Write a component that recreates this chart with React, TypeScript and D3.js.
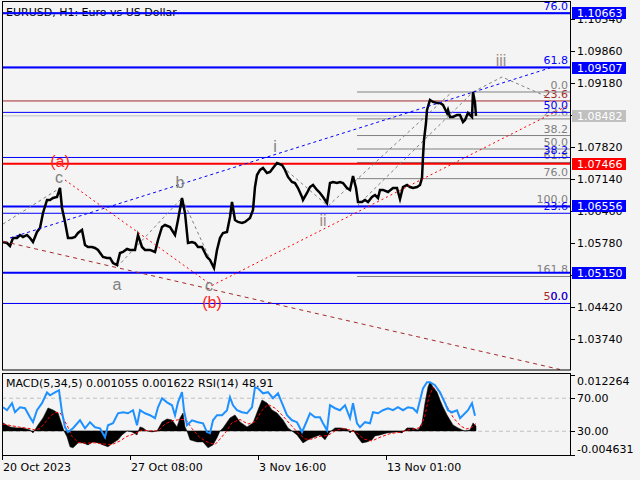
import React from 'react';
import * as d3 from 'd3';

// ---------- DATA ----------
const title = 'EURUSD, H1:  Euro vs US Dollar';
const indicatorTitle = 'MACD(5,34,5) 0.001055 0.001622 RSI(14) 48.91';

const priceTicks = [1.1054, 1.0986, 1.0918, 1.085, 1.0782, 1.0714, 1.0646, 1.0578, 1.051, 1.0442, 1.0374];
const timeTickBars = [0, 128, 256, 384];
const timeTickLabels = ['20 Oct 2023', '27 Oct 08:00', '3 Nov 16:00', '13 Nov 01:00'];

// hour index since 20 Oct 2023 00:00
const priceBars = [1,5,8,11,15,18,21,25,28,31,35,38,41,45,48,51,55,58,60,63,66,70,73,76,80,83,86,90,93,96,101,105,108,111,115,118,121,125,128,133,136,140,143,148,153,156,160,163,168,173,176,180,183,186,190,193,196,200,205,208,212,215,218,221,225,228,230,233,236,240,243,248,251,253,255,258,261,265,268,271,275,280,283,286,290,293,296,300,301,305,308,311,315,318,321,325,328,331,335,338,341,345,348,351,354,356,360,363,366,370,373,376,378,381,386,391,395,398,401,405,408,411,415,418,420,421,422,424,425,428,431,435,438,441,445,446,448,451,455,458,461,463,466,470,471,473,474];
const priceClose = [1.05802,1.05780,1.05717,1.05887,1.05887,1.05950,1.05908,1.05950,1.05887,1.05802,1.06014,1.06099,1.06418,1.06694,1.06694,1.06737,1.06758,1.06949,1.06524,1.06227,1.05887,1.05887,1.05908,1.05993,1.06057,1.05738,1.05695,1.05695,1.05674,1.05632,1.05483,1.05462,1.05462,1.05355,1.05313,1.05568,1.05589,1.05653,1.05632,1.05632,1.05950,1.05695,1.05632,1.05632,1.05589,1.05844,1.06120,1.06163,1.06120,1.05950,1.06269,1.06737,1.06418,1.05780,1.05802,1.05780,1.05695,1.05695,1.05483,1.05419,1.05249,1.05632,1.05887,1.05993,1.06014,1.06333,1.06652,1.06269,1.06227,1.06205,1.06227,1.06312,1.06482,1.06970,1.07225,1.07332,1.07374,1.07268,1.07289,1.07374,1.07480,1.07438,1.07332,1.07183,1.07077,1.07055,1.06949,1.06758,1.06694,1.06843,1.06970,1.07013,1.06907,1.06843,1.06758,1.06630,1.07055,1.07077,1.07055,1.07077,1.07055,1.06949,1.06907,1.07204,1.06949,1.06652,1.06652,1.06694,1.06652,1.06758,1.06800,1.06737,1.06907,1.06907,1.06864,1.06949,1.06949,1.06715,1.06970,1.07013,1.06970,1.06949,1.06970,1.07013,1.07162,1.07608,1.07969,1.08330,1.08607,1.08819,1.08777,1.08755,1.08755,1.08713,1.08543,1.08607,1.08458,1.08458,1.08500,1.08500,1.08351,1.08394,1.08543,1.08458,1.08989,1.08755,1.08482];

const macdBars = [1,8,15,21,28,31,36,41,46,51,56,60,62,65,68,71,76,81,86,91,96,101,106,111,116,120,125,130,135,138,141,145,150,155,160,165,170,175,178,181,183,185,188,195,201,206,211,215,218,221,228,233,238,245,251,256,260,265,270,275,281,286,290,295,301,306,313,318,323,328,333,338,345,348,351,356,360,365,370,373,378,385,395,400,405,411,416,420,423,426,428,431,435,438,441,445,448,451,456,460,463,468,471,474];
const macdMain = [0.00175,0.00088,0.00066,0.00066,0.00022,-0.00044,0.00131,0.00285,0.00504,0.00460,0.00394,0.00131,0,-0.00131,-0.00350,-0.00372,-0.00263,-0.00263,-0.00307,-0.00241,-0.00263,-0.00307,-0.00350,-0.00263,-0.00197,-0.00088,0,-0.00022,-0.00088,0.00088,0.00066,0,-0.00022,0,0.00197,0.00263,0.00241,0.00088,0.00285,0.00394,0.00088,0,-0.00197,-0.00241,-0.00241,-0.00372,-0.00307,-0.00153,0,0.00066,0.00285,0.00350,0.00197,0.00088,0.00175,0.00460,0.00679,0.00613,0.00460,0.00394,0.00241,0.00066,0,-0.00088,-0.00263,-0.00197,-0.00131,-0.00088,-0.00197,-0.00022,0.00066,0.00066,0.00044,-0.00044,0.00022,-0.00153,-0.00263,-0.00241,-0.00197,-0.00110,-0.00088,-0.00044,-0.00022,-0.00044,0.00066,0.00066,0.00022,0.00175,0.00613,0.00964,0.01073,0.00964,0.00854,0.00679,0.00526,0.00350,0.00241,0.00131,0.00066,0.00022,0,0.00022,0.00175,0.00106];

const signalBars = [1,8,18,28,33,38,43,48,53,58,62,66,70,76,83,93,103,110,118,125,133,140,148,156,163,170,178,184,190,198,206,213,218,224,230,238,246,253,260,266,273,280,288,295,303,310,318,326,333,340,348,355,362,370,378,388,398,406,414,419,423,427,431,436,441,446,451,458,464,470,474];
const signalValues = [0.0015,0.0012,0.0008,0.0005,0.0002,0.0005,0.0018,0.0032,0.0040,0.0040,0.0025,0.0008,-0.0012,-0.0025,-0.0027,-0.0026,-0.0029,-0.0030,-0.0022,-0.0012,-0.0006,0.0002,0.0000,0.0000,0.0015,0.0022,0.0025,0.0025,0.0005,-0.0015,-0.0025,-0.0030,-0.0018,-0.0002,0.0018,0.0025,0.0015,0.0020,0.0045,0.0058,0.0050,0.0035,0.0015,-0.0002,-0.0018,-0.0018,-0.0012,-0.0010,0.0000,0.0005,0.0002,-0.0005,-0.0018,-0.0022,-0.0014,-0.0006,-0.0003,0.0002,0.0005,0.0008,0.0035,0.0075,0.0095,0.0090,0.0072,0.0050,0.0030,0.0012,0.0004,0.0008,0.0016];

const rsiBars = [1,5,10,13,18,23,28,31,35,40,45,48,53,57,60,63,66,71,78,83,88,93,98,103,106,111,116,121,126,131,135,138,143,148,153,156,160,165,170,173,176,180,182,185,190,196,201,205,208,211,215,220,225,228,231,235,240,245,250,253,256,261,266,271,276,280,285,290,295,300,303,308,313,318,321,325,328,333,338,343,348,351,355,358,363,368,371,376,381,386,391,396,401,406,411,415,418,421,425,428,433,438,443,446,450,455,458,461,466,470,473];
const rsiValues = [59.1,55.5,64,53,59,58,47,41,55.5,64,77,73.6,77,79.7,53,34.8,29,33.6,43.3,33.6,41,34.8,33.6,22.7,37.3,39.7,51.8,53,51.8,55.5,37.3,55.5,51.8,49.4,45.8,59.1,70,65,61.5,49.4,65,77.3,55.5,37.3,43.3,41,39.7,29,27.6,43.3,49.4,49.4,55.5,71.2,61.5,55.5,53,51.8,59.1,83.3,82,76,77.3,70,76,64,49.4,43.3,41,29,37.3,51.8,47,47,39.7,31.2,61.5,57.9,55.5,61.5,45.8,64,39.7,34.8,41,39.7,53,51.8,55.5,57.9,55.5,59.1,55.5,59.1,57.9,53,67.6,82,89.4,89.4,85.8,77.3,64,55.5,53,55.5,45.8,49.4,55.5,64,48.91];

// horizontal price lines
const blueLevels = [1.10663, 1.09507, 1.06556, 1.0515];
const redLevels = [1.07466];
const bidPrice = 1.08482;

// Fibonacci tools: [price at 0%, price at 100%]
const fibGray = { p0: 1.08989, p100: 1.06566, startBar: 355, levels: [0, 23.6, 38.2, 50, 61.8, 76, 100, 161.8] };
const fibBlue = { p0: 1.04495, p100: 1.12616, levels: [0, 23.6, 38.2, 50, 61.8, 76] };
const fibBrown = { p0: 1.12645, p100: 0.96345, levels: [23.6, 50] };

// trend lines [bar, price]
const blueChannel = [[8, 1.05887], [551, 1.0952]];
const redDown = [[63, 1.07119], [210, 1.04877]];
const redUp = [[210, 1.04877], [565, 1.08692]];
const brownTrend = [[1, 1.05814], [558, 1.03092]];
const grayWaves = [
  [[1, 1.06184], [58, 1.06949]],
  [[115, 1.0527], [180, 1.06737], [212, 1.05249]],
  [[276, 1.0748], [326, 1.06566], [450, 1.08989]],
  [[355, 1.06566], [471, 1.08989]],
  [[471, 1.08989], [500, 1.09308], [548, 1.08862]],
];

// wave labels [bar, price, text, color]
const waveLabels: [number, number, string, string][] = [
  [58, 1.07395, '(a)', '#ff2020'],
  [57, 1.07055, 'c', '#808080'],
  [178, 1.06949, 'b', '#808080'],
  [115, 1.04781, 'a', '#808080'],
  [207, 1.04760, 'c', '#808080'],
  [210, 1.04399, '(b)', '#ff2020'],
  [273, 1.07714, 'i', '#808080'],
  [321, 1.06141, 'ii', '#a08c88'],
  [499, 1.09542, 'iii', '#a08c88'],
];

const F = 'DejaVu Sans, sans-serif';

export default function App() {
  const x = d3.scaleLinear().domain([0, 568]).range([2, 570]);
  const y = d3.scaleLinear().domain([1.0374, 1.0918]).range([339, 83]);
  const yM = d3.scaleLinear().domain([-0.004631, 0.012264]).range([452, 375]);
  const yR = d3.scaleLinear().domain([0, 100]).range([456, 373.5]);

  const line = d3.line<number[]>().x(d => x(d[0])).y(d => y(d[1]));
  const pricePath = d3.line<number>().x((_, i) => x(priceBars[i])).y(d => y(d))(priceClose) || '';
  const histPath = d3.area<number>().x((_, i) => x(macdBars[i])).y0(yM(0)).y1(d => yM(d))(macdMain) || '';
  const sigPath = d3.line<number>().x((_, i) => x(signalBars[i])).y(d => yM(d))(signalValues) || '';
  const rsiPath = d3.line<number>().x((_, i) => x(rsiBars[i])).y(d => yR(d))(rsiValues) || '';

  const fibY = (f: { p0: number; p100: number }, l: number) => y(f.p0 + (f.p100 - f.p0) * l / 100);

  const box = (p: number, fill: string, key: string) => {
    const yy = Math.round(y(p));
    return (
      <g key={key}>
        <rect x={572} y={yy - 6} width={54} height={12} fill={fill} />
        <text x={577} y={yy + 4} fill="#fff" fontSize={11} fontFamily={F}>{p.toFixed(5)}</text>
      </g>
    );
  };

  return (
    <svg width={640} height={480} style={{ position: 'fixed', left: 0, top: 0, background: '#f4f4f4' }}>
      <defs>
        <clipPath id="mainClip"><rect x={2} y={2} width={568} height={368} /></clipPath>
        <clipPath id="indClip"><rect x={2} y={374} width={568} height={82} /></clipPath>
      </defs>
      <rect x={0} y={0} width={640} height={480} fill="#f4f4f4" />

      <g clipPath="url(#mainClip)">
        <text x={6} y={16} fontSize={11} fontFamily={F} fill="#000">{title}</text>
        {fibBrown.levels.map(l => (
          <g key={'br' + l}>
            <line x1={2} x2={570} y1={fibY(fibBrown, l)} y2={fibY(fibBrown, l)} stroke="#a52a2a" strokeWidth={1} />
            <text x={568} y={fibY(fibBrown, l) - 3} textAnchor="end" fontSize={11} fontFamily={F} fill="#a52a2a">{l.toFixed(1)}</text>
          </g>
        ))}
        {fibGray.levels.map(l => (
          <g key={'gr' + l}>
            <line x1={x(fibGray.startBar)} x2={570} y1={fibY(fibGray, l)} y2={fibY(fibGray, l)} stroke="#808080" strokeWidth={1} />
            <text x={568} y={fibY(fibGray, l) - 3} textAnchor="end" fontSize={11} fontFamily={F} fill="#808080">{l.toFixed(1)}</text>
          </g>
        ))}
        {fibBlue.levels.map(l => (
          <g key={'bl' + l}>
            <line x1={2} x2={570} y1={fibY(fibBlue, l)} y2={fibY(fibBlue, l)} stroke="#0000ff" strokeWidth={1} />
            <text x={568} y={fibY(fibBlue, l) - 3} textAnchor="end" fontSize={11} fontFamily={F} fill="#0000ff">{l.toFixed(1)}</text>
          </g>
        ))}
        <line x1={2} x2={570} y1={y(bidPrice)} y2={y(bidPrice)} stroke="#c0c0c0" strokeWidth={1} />
        {blueLevels.map(p => (
          <line key={'hb' + p} x1={2} x2={570} y1={y(p)} y2={y(p)} stroke="#0000ff" strokeWidth={2} />
        ))}
        {redLevels.map(p => (
          <line key={'hr' + p} x1={2} x2={570} y1={y(p)} y2={y(p)} stroke="#ff0000" strokeWidth={2} />
        ))}

        {grayWaves.map((w, i) => (
          <path key={'gw' + i} d={line(w) || ''} fill="none" stroke="#808080" strokeWidth={1} strokeDasharray="3,3" />
        ))}
        <path d={pricePath} fill="none" stroke="#000" strokeWidth={2.5} strokeLinejoin="miter" />
        <path d={line(blueChannel) || ''} fill="none" stroke="#0000ff" strokeWidth={1} strokeDasharray="3,3" />
        <path d={line(redDown) || ''} fill="none" stroke="#ff0000" strokeWidth={1} strokeDasharray="2,3" />
        <path d={line(redUp) || ''} fill="none" stroke="#ff0000" strokeWidth={1} strokeDasharray="2,3" />
        <path d={line(brownTrend) || ''} fill="none" stroke="#a52a2a" strokeWidth={1} strokeDasharray="4,4" />

        {waveLabels.map(([b, p, t, c], i) => (
          <text key={'wl' + i} x={x(b)} y={y(p)} textAnchor="middle" fontSize={16} fontFamily="Liberation Sans, Arial, sans-serif" fill={c}>{t}</text>
        ))}
      </g>

      <rect x={2.5} y={1.5} width={568} height={368.5} fill="none" stroke="#000" strokeWidth={1} />
      {priceTicks.map(p => (
        <g key={'pt' + p}>
          <line x1={570} x2={575} y1={Math.round(y(p)) + 0.5} y2={Math.round(y(p)) + 0.5} stroke="#000" />
          <text x={577} y={y(p) + 4} fontSize={11} fontFamily={F} fill="#000">{p.toFixed(5)}</text>
        </g>
      ))}
      {blueLevels.map(p => box(p, '#0000ff', 'bx' + p))}
      {redLevels.map(p => box(p, '#ff0000', 'rx' + p))}
      {box(bidPrice, '#c0c0c0', 'bid')}

      <g clipPath="url(#indClip)">
        <line x1={2} x2={570} y1={yR(70)} y2={yR(70)} stroke="#c0c0c0" strokeDasharray="4,3" />
        <line x1={2} x2={570} y1={yR(30)} y2={yR(30)} stroke="#c0c0c0" strokeDasharray="4,3" />
        <path d={histPath} fill="#000" stroke="#000" strokeWidth={0.5} />
        <path d={sigPath} fill="none" stroke="#ff0000" strokeWidth={1} strokeDasharray="3,2" />
        <path d={rsiPath} fill="none" stroke="#1e90ff" strokeWidth={2} />
        <text x={6} y={387} fontSize={11} fontFamily={F} fill="#000">{indicatorTitle}</text>
      </g>
      <rect x={2.5} y={373.5} width={568} height={82} fill="none" stroke="#000" strokeWidth={1} />
      {[375, yR(70), yR(30), 455].map((t, i) => (
        <line key={'it' + i} x1={570} x2={575} y1={Math.round(t) + 0.5} y2={Math.round(t) + 0.5} stroke="#000" />
      ))}
      <text x={577} y={385} fontSize={11} fontFamily={F}>0.012264</text>
      <text x={577} y={yR(70) + 4} fontSize={11} fontFamily={F}>70.00</text>
      <text x={577} y={yR(30) + 4} fontSize={11} fontFamily={F}>30.00</text>
      <text x={577} y={453} fontSize={11} fontFamily={F}>-0.004631</text>

      {timeTickBars.map((b, i) => (
        <g key={'tt' + b}>
          <line x1={Math.round(x(b)) + 0.5} x2={Math.round(x(b)) + 0.5} y1={456} y2={460} stroke="#000" />
          <text x={x(b) + 1} y={471} fontSize={11} fontFamily={F} fill="#000">{timeTickLabels[i]}</text>
        </g>
      ))}
    </svg>
  );
}
